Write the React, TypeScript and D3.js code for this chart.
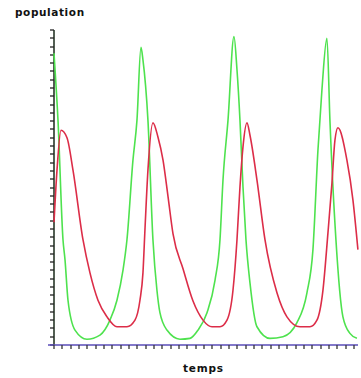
import * as React from 'react';
import * as d3 from "d3";

interface Point {
    t: number;
    v: number;
}

// prey (green): [time, population]
const preyT = [0, 0.48, 1.08, 1.32, 1.68, 2.52, 3.96, 5.52, 6.72, 7.56, 8.28, 8.76, 9.48, 9.96, 10.44, 10.68, 11.28, 11.88, 12.36, 12.72, 13.56, 15.13, 16.33, 17.29, 18.37, 19.33, 19.93, 20.29, 20.89, 21.61, 21.97, 22.33, 22.69, 23.05, 23.53, 24.37, 25.93, 27.49, 29.17, 30.37, 31.09, 31.69, 32.17, 32.77, 33.13, 33.85, 34.69, 35.53, 36.37];
const preyV = [35.2, 27.1, 12.7, 10.3, 5.4, 1.8, 0.7, 1.2, 3.0, 5.4, 9.0, 12.7, 22.3, 27.1, 35.9, 34.4, 27.1, 12.7, 6.6, 3.9, 1.8, 0.7, 0.8, 1.8, 3.9, 7.8, 12.7, 19.9, 27.1, 37.2, 33.2, 27.1, 19.1, 12.7, 7.5, 2.2, 0.8, 1.0, 2.7, 6.3, 11.5, 23.5, 30.8, 37.0, 27.1, 12.7, 3.4, 1.4, 0.8];

// predator (red)
const predT = [0, 0.36, 0.84, 1.56, 2.28, 3.48, 4.32, 5.28, 6.36, 7.56, 8.76, 9.72, 10.32, 10.68, 10.92, 11.28, 11.88, 12.48, 13.09, 13.69, 14.29, 15.49, 16.69, 17.89, 18.97, 19.93, 20.77, 21.49, 21.97, 22.33, 22.69, 23.17, 23.53, 24.37, 25.33, 26.77, 27.97, 29.53, 30.73, 31.57, 32.29, 32.89, 33.37, 33.73, 34.09, 35.17, 35.89, 36.49];
const predV = [14.8, 21.1, 25.9, 25.0, 21.1, 12.7, 8.7, 5.4, 3.4, 2.2, 2.2, 3.0, 5.4, 8.7, 13.9, 21.1, 26.8, 25.1, 22.3, 17.9, 13.4, 9.2, 5.3, 3.0, 2.2, 2.2, 3.0, 6.6, 12.7, 19.1, 23.9, 26.8, 25.3, 19.9, 12.7, 6.3, 3.4, 2.2, 2.2, 3.0, 6.6, 13.5, 19.5, 24.7, 26.2, 22.3, 17.5, 11.5];

const xTicks = d3.range(0, 37);
const yTicks = d3.range(0, 39);

const W = 361, H = 378;

export default function App() {
    const x = d3.scaleLinear().domain([0, 36.5]).range([54, 358]);
    const y = d3.scaleLinear().domain([0, 38]).range([345, 30]);

    const prey: Point[] = preyT.map((t, i) => ({ t, v: preyV[i] }));
    const pred: Point[] = predT.map((t, i) => ({ t, v: predV[i] }));

    const line = d3.line<Point>()
        .curve(d3.curveMonotoneX)
        .x(p => x(p.t))
        .y(p => y(p.v));

    return (
        <svg width={W} height={H} style={{ position: "absolute", left: 0, top: 0, background: "#fff" }}>
            <text x={15} y={16} fontFamily="DejaVu Sans" fontWeight="bold" fontSize={10.5} letterSpacing={0.6} fill="#111">population</text>
            <text x={183} y={372} fontFamily="DejaVu Sans" fontWeight="bold" fontSize={10.5} letterSpacing={0.8} fill="#111">temps</text>

            {/* y axis */}
            <line x1={54} x2={54} y1={y(38)} y2={y(0)} stroke="#1a2a1a" strokeWidth={1.5} />
            {yTicks.map(t => (
                <line key={t} x1={50} x2={54} y1={Math.round(y(t))} y2={Math.round(y(t))} stroke="#222" strokeWidth={1.3} />
            ))}

            {/* x axis */}
            <line x1={48} x2={358} y1={y(0)} y2={y(0)} stroke="#5a4cb8" strokeWidth={1.5} />
            {xTicks.map(t => (
                <line key={t} x1={Math.round(x(t))} x2={Math.round(x(t))} y1={y(0)} y2={y(0) + 4} stroke="#333" strokeWidth={1.3} />
            ))}

            <path d={line(prey) || undefined} fill="none" stroke="#4ee24e" strokeWidth={1.6} strokeLinejoin="round" />
            <path d={line(pred) || undefined} fill="none" stroke="#dc2d48" strokeWidth={1.6} strokeLinejoin="round" />
        </svg>
    );
}
